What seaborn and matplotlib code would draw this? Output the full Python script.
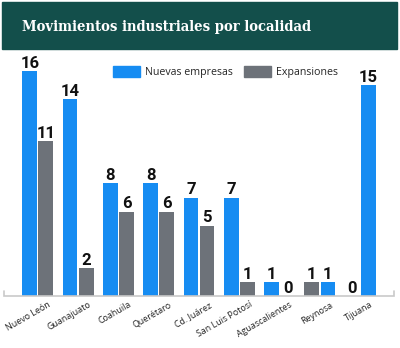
import matplotlib
matplotlib.use("Agg")
import matplotlib.pyplot as plt
import matplotlib.transforms as mtransforms
from matplotlib.patches import Patch, Rectangle
import pandas as pd
import seaborn as sns

# Datos por localidad
localidades = ["Nuevo León", "Guanajuato", "Coahuila", "Querétaro", "Cd. Juárez",
               "San Luis Potosí", "Aguascalientes", "Reynosa", "Tijuana"]
nuevas_empresas = [16, 14, 8, 8, 7, 7, 1, 1, 15]
expansiones = [11, 2, 6, 6, 5, 1, 0, 1, 0]
# serie que ocupa la columna izquierda de cada par
serie_izquierda = ["Nuevas empresas"] * 7 + ["Expansiones"] * 2

AZUL = "#168cf2"
GRIS = "#6d7279"
FONDO_TITULO = "#134f4b"
colores = {"Nuevas empresas": AZUL, "Expansiones": GRIS}

filas = []
for loc, n, e, izq in zip(localidades, nuevas_empresas, expansiones, serie_izquierda):
    valores = {"Nuevas empresas": n, "Expansiones": e}
    der = "Expansiones" if izq == "Nuevas empresas" else "Nuevas empresas"
    filas.append(dict(localidad=loc, lado="izq", serie=izq, valor=valores[izq]))
    filas.append(dict(localidad=loc, lado="der", serie=der, valor=valores[der]))
df = pd.DataFrame(filas)

sns.set_theme(style="white")
W, H = 400, 348
fig = plt.figure(figsize=(W / 100, H / 100), dpi=100)
fig.patch.set_facecolor("white")

# Banda del título
fig.patches.append(Rectangle((2 / W, 1 - 49 / H), 395 / W, 47 / H,
                             transform=fig.transFigure, color=FONDO_TITULO, zorder=0))
fig.text(22 / W, 1 - 26.5 / H, "Movimientos industriales por localidad",
         color="white", fontsize=10.6, fontweight="bold", family="DejaVu Serif",
         fontstretch="condensed", va="center", ha="left")

ax = fig.add_axes([4 / W, (H - 296) / H, 390 / W, 241 / H])
sns.barplot(data=df, x="localidad", y="valor", hue="lado", hue_order=["izq", "der"],
            order=localidades, dodge=True, width=0.8, gap=0.08, errorbar=None,
            palette=[AZUL, GRIS], saturation=1, legend=False, ax=ax)

for container, lado in zip(ax.containers, ["izq", "der"]):
    sub = df[df["lado"] == lado].set_index("localidad").loc[localidades]
    for barra, serie, valor in zip(container, sub["serie"], sub["valor"]):
        barra.set_facecolor(colores[serie])
        barra.set_edgecolor("none")
        ax.annotate(f"{valor}", (barra.get_x() + barra.get_width() / 2, barra.get_height()),
                    xytext=(0, 2.3), textcoords="offset points", ha="center", va="baseline",
                    fontsize=12, fontweight="bold", family="Roboto", color="#111111")

ax.set_xlim(-0.84, 8.84)
ax.set_ylim(0, 17.13)
ax.set_xlabel("")
ax.set_ylabel("")
ax.set_yticks([])
for s in ["left", "right", "top", "bottom"]:
    ax.spines[s].set_visible(False)
ax.plot([0, 0, 1, 1], [0.02, 0, 0, 0.02], transform=ax.transAxes, color="#c9c9c9",
        lw=1.2, clip_on=False, solid_joinstyle="miter")

ax.tick_params(axis="x", length=0, pad=0)
ax.set_xticks(range(len(localidades)))
ax.set_xticklabels(localidades, rotation=30, ha="right", rotation_mode="anchor",
                   fontsize=6.4, family="Open Sans", color="#222222")
desplaza = mtransforms.ScaledTranslation(7 / 72, -3 / 72, fig.dpi_scale_trans)
for lbl in ax.get_xticklabels():
    lbl.set_transform(lbl.get_transform() + desplaza)

ax.legend(handles=[Patch(color=AZUL, label="Nuevas empresas"),
                   Patch(color=GRIS, label="Expansiones")],
          ncol=2, frameon=False, loc="upper left",
          bbox_to_anchor=(113 / W, 1 - 66 / H), bbox_transform=fig.transFigure,
          borderpad=0, borderaxespad=0, handlelength=2.55, handleheight=1.25,
          handletextpad=0.45, columnspacing=1.05,
          prop={"family": "Open Sans", "size": 7.7})

fig.savefig("out.png", dpi=100)
